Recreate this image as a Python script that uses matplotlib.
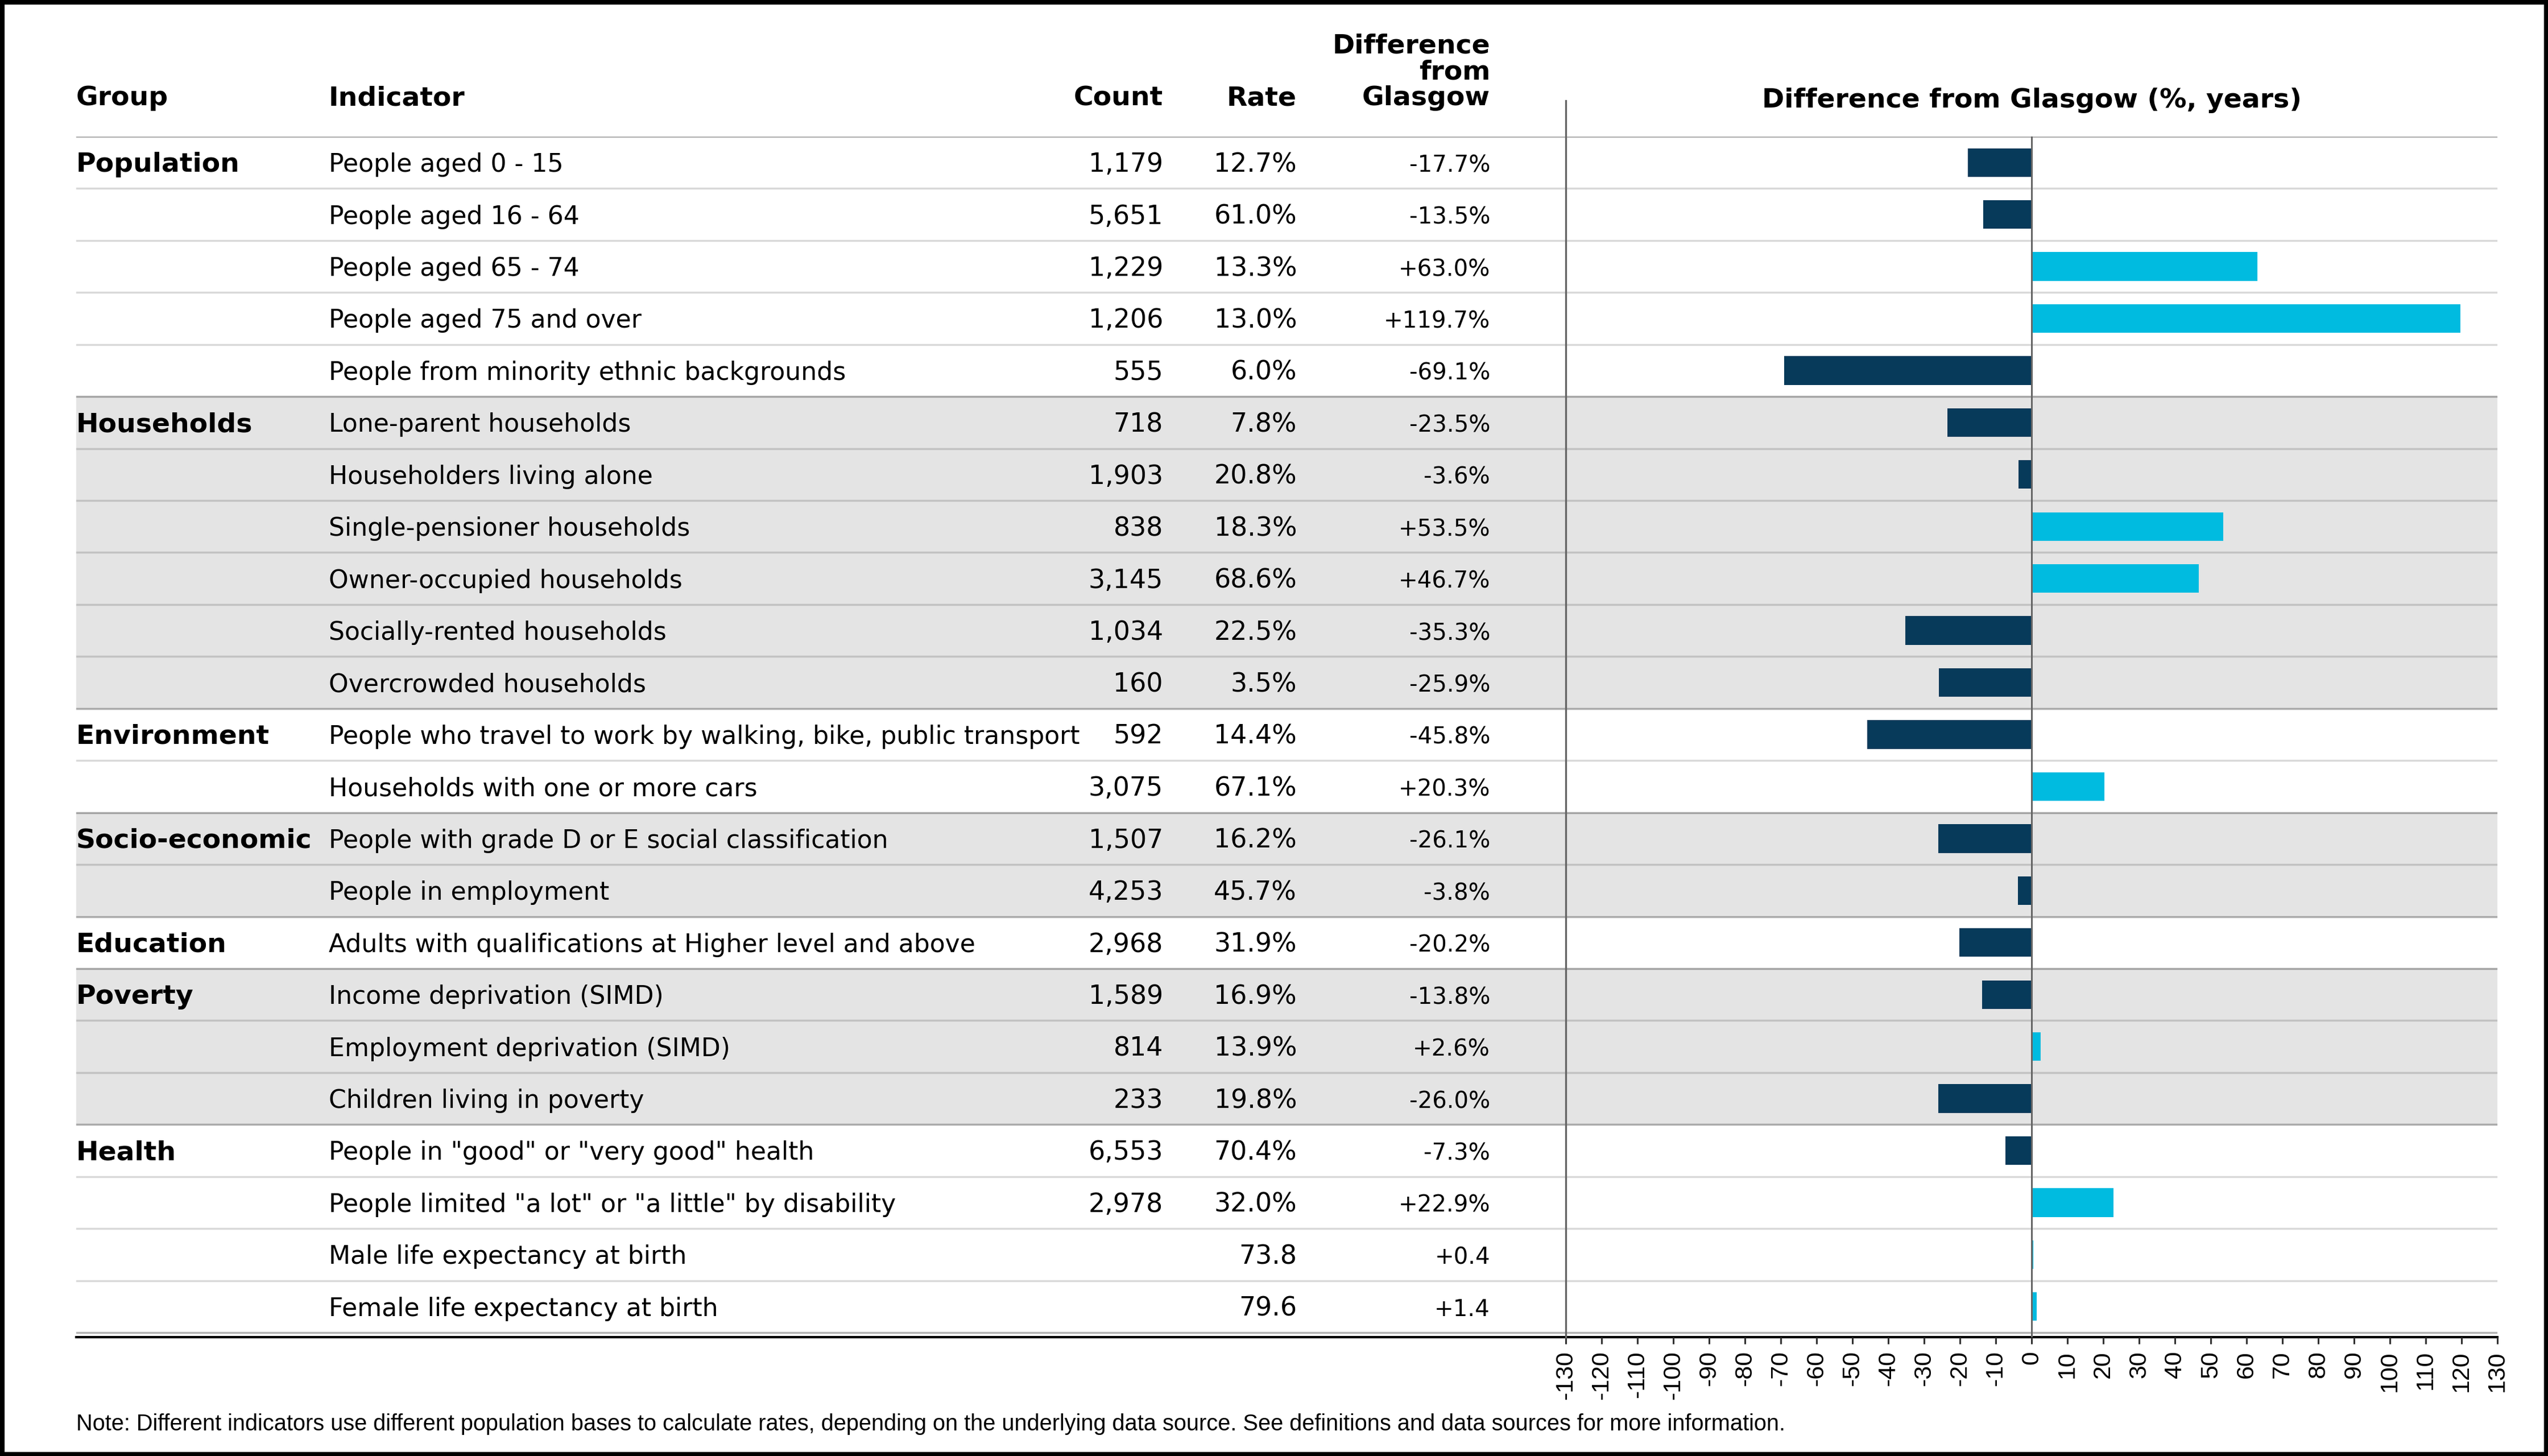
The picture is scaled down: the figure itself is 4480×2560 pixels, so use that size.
import matplotlib
matplotlib.use("Agg")
import matplotlib.pyplot as plt
import matplotlib.transforms as mtransforms
from matplotlib.patches import Rectangle

plt.rcParams['axes.unicode_minus'] = False

# data
groups = ["Population", "Households", "Environment", "Socio-economic",
          "Education", "Poverty", "Health"]
group_sizes = [5, 6, 2, 2, 1, 3, 4]

indicators = [
    "People aged 0 - 15",
    "People aged 16 - 64",
    "People aged 65 - 74",
    "People aged 75 and over",
    "People from minority ethnic backgrounds",
    "Lone-parent households",
    "Householders living alone",
    "Single-pensioner households",
    "Owner-occupied households",
    "Socially-rented households",
    "Overcrowded households",
    "People who travel to work by walking, bike, public transport",
    "Households with one or more cars",
    "People with grade D or E social classification",
    "People in employment",
    "Adults with qualifications at Higher level and above",
    "Income deprivation (SIMD)",
    "Employment deprivation (SIMD)",
    "Children living in poverty",
    'People in "good" or "very good" health',
    'People limited "a lot" or "a little" by disability',
    "Male life expectancy at birth",
    "Female life expectancy at birth",
]
counts = [1179, 5651, 1229, 1206, 555, 718, 1903, 838, 3145, 1034, 160,
          592, 3075, 1507, 4253, 2968, 1589, 814, 233, 6553, 2978, None, None]
rates = [12.7, 61.0, 13.3, 13.0, 6.0, 7.8, 20.8, 18.3, 68.6, 22.5, 3.5,
         14.4, 67.1, 16.2, 45.7, 31.9, 16.9, 13.9, 19.8, 70.4, 32.0, 73.8, 79.6]
diffs = [-17.7, -13.5, 63.0, 119.7, -69.1, -23.5, -3.6, 53.5, 46.7, -35.3, -25.9,
         -45.8, 20.3, -26.1, -3.8, -20.2, -13.8, 2.6, -26.0, -7.3, 22.9, 0.4, 1.4]
is_pct = [True] * 21 + [False, False]

note = ("Note: Different indicators use different population bases to calculate rates, "
        "depending on the underlying data source. See definitions and data sources for more information.")

navy = "#073a5a"
cyan = "#00bbe0"
shade = "#e4e4e4"

W, H = 4480, 2560
fig = plt.figure(figsize=(22.4, 12.8), dpi=200)
n = len(indicators)
row_px = (2343 - 240) / n
y_bot = n + (2351 - 2343) / row_px

# table axes (full width, rows in data units)
tab = fig.add_axes([134 / W, 1 - 2351 / H, (4391 - 134) / W, (2351 - 240) / H])
tab.set_xlim(0, 1)
tab.set_ylim(y_bot, 0)
tab.axis('off')

start = 0
boundaries = [0]
for gi, size in enumerate(group_sizes):
    if gi % 2 == 1:
        tab.axhspan(start, start + size, color=shade, lw=0, zorder=0)
    start += size
    boundaries.append(start)

for r in range(0, n + 1):
    a = 0.3 if r in boundaries else 0.15
    tab.axhline(r, color="black", alpha=a, lw=1.25, zorder=1)
tab.axhline(y_bot, color="black", lw=1.5, clip_on=False, zorder=3)

trans = mtransforms.blended_transform_factory(fig.transFigure, tab.transData)
fs_ind = 15.9
fs_num = 16.5
fs_diff = 14.5
fs_bold = 17
off = 0.5 + 0.18

start = 0
for g, size in zip(groups, group_sizes):
    tab.text(134 / W, start + off, g, transform=trans, fontsize=fs_bold,
             fontweight='bold', va='baseline', ha='left')
    start += size

for i in range(n):
    y = i + off
    tab.text(578 / W, y, indicators[i], transform=trans, fontsize=fs_ind, va='baseline')
    if counts[i] is not None:
        tab.text(2045 / W, y, f"{counts[i]:,}", transform=trans, fontsize=fs_num,
                 va='baseline', ha='right')
    rtxt = f"{rates[i]:.1f}%" if is_pct[i] else f"{rates[i]:.1f}"
    tab.text(2280 / W, y, rtxt, transform=trans, fontsize=fs_num, va='baseline', ha='right')
    dtxt = f"{diffs[i]:+.1f}%" if is_pct[i] else f"{diffs[i]:+.1f}"
    tab.text(2620 / W, y, dtxt, transform=trans, fontsize=fs_diff, va='baseline', ha='right')

# header
hb = 1 - 185 / H
fig.text(134 / W, hb, "Group", fontsize=fs_bold, fontweight='bold', va='baseline')
fig.text(578 / W, hb, "Indicator", fontsize=fs_bold, fontweight='bold', va='baseline')
fig.text(2045 / W, hb, "Count", fontsize=fs_bold, fontweight='bold', va='baseline', ha='right')
fig.text(2280 / W, hb, "Rate", fontsize=fs_bold, fontweight='bold', va='baseline', ha='right')
for txt, yb in zip(["Difference", "from", "Glasgow"], [93, 139, 185]):
    fig.text(2620 / W, 1 - yb / H, txt, fontsize=fs_bold, fontweight='bold',
             va='baseline', ha='right')
fig.text(3572 / W, 1 - 189 / H, "Difference from Glasgow (%, years)", fontsize=fs_bold,
         fontweight='bold', va='baseline', ha='center')

# bar axes
ax = fig.add_axes([2753 / W, 1 - 2351 / H, (4391 - 2753) / W, (2351 - 240) / H])
ax.set_facecolor('none')
ax.set_xlim(-130, 130)
ax.set_ylim(y_bot, 0)
ypos = [i + 0.5 for i in range(n)]
cols = [cyan if d > 0 else navy for d in diffs]
ax.barh(ypos, diffs, height=0.55, color=cols, zorder=2)
ax.axvline(0, color="#666666", lw=1.1, zorder=3)
ax.axvline(-130, ymin=0, ymax=1 + (240 - 177) / (2351 - 240), color="#666666",
           lw=1.2, clip_on=False, zorder=3)
for s in ax.spines.values():
    s.set_visible(False)
ax.set_yticks([])
ax.set_xticks(list(range(-130, 131, 10)))
ax.tick_params(axis='x', length=4.3, width=1.1, color='#333333', pad=4.3,
               labelsize=15.5, labelrotation=90)
for lab in ax.get_xticklabels():
    lab.set_fontfamily('Liberation Sans')

fig.text(134 / W, 1 - 2515 / H, note, fontsize=14.3, family='Liberation Sans',
         va='baseline')

fig.patches.append(Rectangle((0, 0), 1, 1, transform=fig.transFigure, fill=False,
                             ec='black', lw=5.5, zorder=10))

fig.savefig("out.png", dpi=200, facecolor='white')
